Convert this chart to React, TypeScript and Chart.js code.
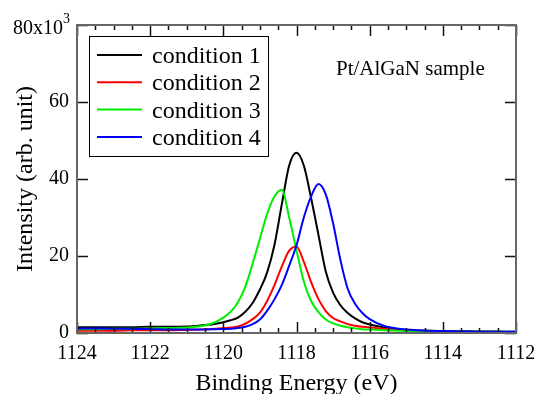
import React, { useEffect, useRef } from "react";
import { Chart, registerables } from "chart.js";

Chart.register(...registerables);

// Binding energy (eV)
const energies = [
  1124, 1123.5, 1123, 1122.5, 1122, 1121.5, 1121, 1120.6, 1120.2, 1119.8,
  1119.6, 1119.4, 1119.2, 1119.0, 1118.8, 1118.6, 1118.4, 1118.2, 1118.0, 1117.8,
  1117.6, 1117.4, 1117.2, 1117.0, 1116.8, 1116.6, 1116.4, 1116.2, 1116.0, 1115.6,
  1115.2, 1114.8, 1114.4, 1114, 1113.5, 1113, 1112.5, 1112,
];

// Intensity (x10^3 arb. unit)
const condition1 = [
  1.5, 1.5, 1.5, 1.5, 1.6, 1.6, 1.7, 2.0, 2.4, 3.3,
  4.0, 5.5, 7.8, 11.3, 15.8, 23.0, 33.5, 43.5, 46.8, 43.5,
  35.0, 25.5, 16.0, 10.5, 7.2, 5.2, 3.8, 2.8, 2.2, 1.4,
  0.9, 0.7, 0.6, 0.5, 0.5, 0.4, 0.4, 0.3,
];
const condition2 = [
  0.6, 0.6, 0.6, 0.7, 0.7, 0.7, 0.8, 0.9, 1.1, 1.4,
  1.7, 2.4, 3.6, 5.3, 8.4, 12.5, 17.3, 21.4, 22.5, 18.5,
  13.2, 8.8, 5.7, 3.9, 3.0, 2.3, 1.9, 1.6, 1.4, 1.1,
  0.8, 0.6, 0.5, 0.4, 0.3, 0.3, 0.2, 0.2,
];
const condition3 = [
  1.0, 1.0, 1.1, 1.1, 1.2, 1.3, 1.4, 1.8, 2.9, 5.5,
  8.0, 12.0, 18.0, 24.5, 31.0, 35.5, 37.2, 30.0, 21.5, 13.4,
  8.3, 5.4, 3.5, 2.5, 1.9, 1.5, 1.2, 1.0, 0.9, 0.7,
  0.6, 0.5, 0.5, 0.4, 0.4, 0.3, 0.3, 0.3,
];
const condition4 = [
  1.2, 1.2, 1.1, 1.1, 1.0, 0.9, 0.9, 0.9, 1.0, 1.1,
  1.3, 1.6, 2.3, 3.5, 5.8, 8.8, 12.5, 17.5, 22.8, 30.0,
  35.5, 38.7, 36.0, 28.5, 19.0, 11.5, 7.6, 5.2, 3.6, 1.8,
  1.1, 0.8, 0.6, 0.5, 0.4, 0.3, 0.3, 0.3,
];

const seriesLabels = ["condition 1", "condition 2", "condition 3", "condition 4"];
const seriesColors = ["#000000", "#ff0000", "#00ee00", "#0000ff"];
const xTickValues = [1124, 1122, 1120, 1118, 1116, 1114, 1112];
const yTickValues = [0, 20, 40, 60, 80];
const annotation = "Pt/AlGaN sample";

const SERIF = "'Liberation Serif', 'Times New Roman', serif";

const decorPlugin = {
  id: "decor",
  afterDatasetsDraw(chart: any) {
    const { ctx, chartArea } = chart;
    const { left, right, top, bottom } = chartArea;
    const xs = chart.scales.x;
    const ys = chart.scales.y;
    ctx.save();
    // ticks (inward, mirrored)
    ctx.strokeStyle = "#111";
    ctx.lineWidth = 1.5;
    ctx.beginPath();
    for (let e = 1112; e <= 1124.001; e += 0.5) {
      const px = Math.round(xs.getPixelForValue(e)) + 0.5;
      const major = Math.abs(e / 2 - Math.round(e / 2)) < 1e-6;
      const len = major ? 11 : 5;
      ctx.moveTo(px, bottom);
      ctx.lineTo(px, bottom - len);
      ctx.moveTo(px, top);
      ctx.lineTo(px, top + len);
    }
    for (const v of yTickValues) {
      const py = Math.round(ys.getPixelForValue(v)) + 0.5;
      ctx.moveTo(left, py);
      ctx.lineTo(left + 11, py);
      ctx.moveTo(right, py);
      ctx.lineTo(right - 11, py);
    }
    ctx.stroke();
    // frame
    ctx.strokeStyle = "#666";
    ctx.lineWidth = 2;
    ctx.strokeRect(left, top, right - left, bottom - top);

    // top y label 80x10^3
    ctx.fillStyle = "#000";
    ctx.font = `20px ${SERIF}`;
    ctx.textAlign = "right";
    ctx.textBaseline = "alphabetic";
    const py80 = ys.getPixelForValue(80);
    ctx.fillText("80x10", 63, py80 + 9);
    ctx.font = `14px ${SERIF}`;
    ctx.textAlign = "left";
    ctx.fillText("3", 63, py80 - 2);

    // annotation
    ctx.font = `21px ${SERIF}`;
    ctx.fillText(annotation, 336, 75);

    // legend
    ctx.fillStyle = "#fff";
    ctx.fillRect(89.5, 36.5, 179, 120);
    ctx.strokeStyle = "#000";
    ctx.lineWidth = 1;
    ctx.strokeRect(89.5, 36.5, 179, 120);
    ctx.font = `24px ${SERIF}`;
    chart.data.datasets.forEach((ds: any, i: number) => {
      const cy = 55 + i * 27.3;
      ctx.strokeStyle = ds.borderColor;
      ctx.lineWidth = 2;
      ctx.beginPath();
      ctx.moveTo(97, cy);
      ctx.lineTo(142, cy);
      ctx.stroke();
      ctx.fillStyle = "#000";
      ctx.fillText(ds.label, 152, cy + 8);
    });
    ctx.restore();
  },
};

export default function App() {
  const ref = useRef<HTMLCanvasElement>(null);
  useEffect(() => {
    document.body.style.margin = "0";
    const series = [condition1, condition2, condition3, condition4];
    const chart = new Chart(ref.current as HTMLCanvasElement, {
      type: "line",
      data: {
        datasets: series.map((vals, i) => ({
          label: seriesLabels[i],
          data: energies.map((e, j) => ({ x: e, y: vals[j] })),
          borderColor: seriesColors[i],
          borderWidth: 2,
          pointRadius: 0,
          fill: false,
          cubicInterpolationMode: "monotone" as const,
          order: 4 - i,
        })),
      },
      options: {
        responsive: false,
        animation: false,
        events: [],
        layout: { padding: { top: 25, right: 22, left: 0, bottom: 0 } },
        plugins: { legend: { display: false }, tooltip: { enabled: false } },
        scales: {
          x: {
            type: "linear",
            reverse: true,
            min: 1112,
            max: 1124,
            afterFit: (s: any) => {
              s.height = 61;
              s.paddingLeft = 0;
              s.paddingRight = 0;
            },
            afterBuildTicks: (s: any) => { s.ticks = xTickValues.map((v) => ({ value: v })); },
            grid: { display: false, drawTicks: false },
            border: { display: false },
            ticks: {
              padding: 9,
              color: "#000",
              font: { family: SERIF, size: 20 },
              maxRotation: 0,
              callback: (v: any) => String(v),
            },
            title: {
              display: true,
              text: "Binding Energy (eV)",
              color: "#000",
              font: { family: SERIF, size: 24, lineHeight: 1 },
              padding: { top: 0, bottom: -2 },
            },
          },
          y: {
            type: "linear",
            min: 0,
            max: 80,
            afterFit: (s: any) => {
              s.width = 77;
              s.paddingTop = 0;
              s.paddingBottom = 0;
            },
            afterBuildTicks: (s: any) => { s.ticks = yTickValues.map((v) => ({ value: v })); },
            grid: { display: false, drawTicks: false },
            border: { display: false },
            ticks: {
              padding: 8,
              color: "#000",
              font: { family: SERIF, size: 20 },
              callback: (v: any) => (v === 80 ? "" : String(v)),
            },
            title: {
              display: true,
              text: "Intensity (arb. unit)",
              color: "#000",
              font: { family: SERIF, size: 24, lineHeight: 1 },
              padding: { top: 14, bottom: 0 },
            },
          },
        },
      },
      plugins: [decorPlugin],
    });
    return () => chart.destroy();
  }, []);
  return <canvas ref={ref} width={538} height={394} style={{ display: "block" }} />;
}
